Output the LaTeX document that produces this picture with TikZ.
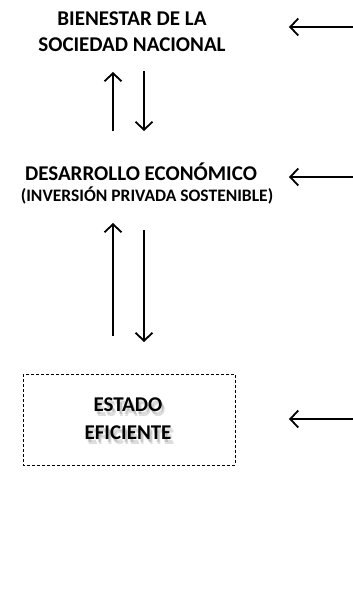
\documentclass[tikz,border=0pt]{standalone}
\usepackage{fontspec}
\setmainfont{Carlito}
\usetikzlibrary{arrows.meta}
\begin{document}
\begin{tikzpicture}[x=1pt,y=-1pt,
  lbl/.style={font=\bfseries\fontsize{21}{26}\selectfont, align=center, inner sep=0pt},
  lblb/.style={font=\bfseries\fontsize{21}{28}\selectfont, align=center, inner sep=0pt},
  sub/.style={font=\bfseries\fontsize{17.5}{20}\selectfont, inner sep=0pt},
  arr/.style={line width=1.8pt, -{Straight Barb[length=8pt,width=17pt,line width=1.8pt]}},
  dbox/.style={draw, dashed, line width=0.8pt, dash pattern=on 3pt off 2pt}]
\useasboundingbox (0,0) rectangle (353,613);
% top
\node[lbl] (bien) at (132,32) {BIENESTAR DE LA\\SOCIEDAD NACIONAL};
\coordinate (e1) at (353,27);
\coordinate (h1) at (289,27);
\draw[arr] (e1) -- (h1);
\coordinate (u1a) at (113,131); \coordinate (u1b) at (113,72);
\coordinate (d1a) at (144,71); \coordinate (d1b) at (144,131);
\draw[arr] (u1a) -- (u1b);
\draw[arr] (d1a) -- (d1b);
% middle
\node[lbl] (des) at (141,172) {DESARROLLO ECONÓMICO};
\node[sub] (inv) at (147,195) {(INVERSIÓN PRIVADA SOSTENIBLE)};
\coordinate (e2) at (353,177);
\coordinate (h2) at (289,177);
\draw[arr] (e2) -- (h2);
\coordinate (u2a) at (113,336); \coordinate (u2b) at (113,223);
\coordinate (d2a) at (144,230); \coordinate (d2b) at (144,342);
\draw[arr] (u2a) -- (u2b);
\draw[arr] (d2a) -- (d2b);
% bottom
\draw[dbox] (23,374) rectangle (235,465);
\foreach \dx/\dy in {2/3,3/5}{
  \node[lblb, text=black, opacity=0.13] at (128+\dx,419+\dy) {ESTADO\\EFICIENTE};
}
\node[lblb] (est) at (128,419) {ESTADO\\EFICIENTE};
\coordinate (e3) at (353,419);
\coordinate (h3) at (289,419);
\draw[arr] (e3) -- (h3);
\end{tikzpicture}
\end{document}
